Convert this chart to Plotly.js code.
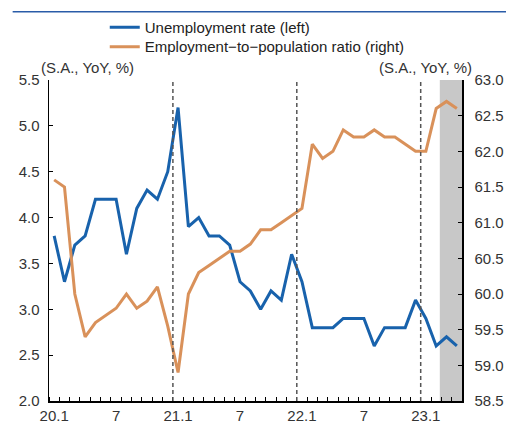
<!DOCTYPE html>
<html>
<head>
<meta charset="utf-8">
<script src="https://cdn.plot.ly/plotly-3.0.1.min.js"></script>
<style>
  html, body { margin: 0; padding: 0; background: #fff; }
  #chart { width: 506px; height: 424px; }
</style>
</head>
<body>
<div id="chart"></div>
<script>
// Monthly series, Jan 2020 through Apr 2023
const months = [
  '20.1','20.2','20.3','20.4','20.5','20.6','20.7','20.8','20.9','20.10','20.11','20.12',
  '21.1','21.2','21.3','21.4','21.5','21.6','21.7','21.8','21.9','21.10','21.11','21.12',
  '22.1','22.2','22.3','22.4','22.5','22.6','22.7','22.8','22.9','22.10','22.11','22.12',
  '23.1','23.2','23.3','23.4'
];
const unemploymentRate = [
  3.8, 3.3, 3.7, 3.8, 4.2, 4.2, 4.2, 3.6, 4.1, 4.3, 4.2, 4.5,
  5.2, 3.9, 4.0, 3.8, 3.8, 3.7, 3.3, 3.2, 3.0, 3.2, 3.1, 3.6,
  3.3, 2.8, 2.8, 2.8, 2.9, 2.9, 2.9, 2.6, 2.8, 2.8, 2.8, 3.1,
  2.9, 2.6, 2.7, 2.6
];
const employmentRatio = [
  61.6, 61.5, 60.0, 59.4, 59.6, 59.7, 59.8, 60.0, 59.8, 59.9, 60.1, 59.55,
  58.9, 60.0, 60.3, 60.4, 60.5, 60.6, 60.6, 60.7, 60.9, 60.9, 61.0, 61.1,
  61.2, 62.1, 61.9, 62.0, 62.3, 62.2, 62.2, 62.3, 62.2, 62.2, 62.1, 62.0,
  62.0, 62.6, 62.7, 62.6
];
// Labelled months on the x axis
const xTickLabels = ['20.1', '7', '21.1', '7', '22.1', '7', '23.1'];
const xTickMonths = ['20.1', '20.7', '21.1', '21.7', '22.1', '22.7', '23.1'];
// Year boundaries (dashed) and the shaded latest months
const yearStarts = ['21.1', '22.1', '23.1'];
const shadedFrom = '23.3';

const idx = m => months.indexOf(m);
const xs = months.map((m, i) => i);

const FONT = 'Liberation Sans, Arial, sans-serif';
const TXT = '#333333';

const traces = [
  {
    x: xs, y: unemploymentRate, type: 'scatter', mode: 'lines',
    name: 'Unemployment rate (left)',
    line: { color: '#1862AC', width: 3 },
    yaxis: 'y', legend: 'legend'
  },
  {
    x: xs, y: employmentRatio, type: 'scatter', mode: 'lines',
    name: 'Employment\u2212to\u2212population ratio (right)',
    line: { color: '#D9915A', width: 3 },
    yaxis: 'y2', legend: 'legend2'
  }
];

const shapes = [
  // shaded band over the latest months
  {
    type: 'rect', xref: 'x', yref: 'paper',
    x0: idx(shadedFrom) - 0.65, x1: months.length - 0.5, y0: 0, y1: 1,
    fillcolor: '#C8C8C8', line: { width: 0 }, layer: 'below'
  },
  // rule across the top of the figure
  {
    type: 'line', xref: 'paper', yref: 'paper',
    x0: -0.088, x1: 1.11, y0: 1.213, y1: 1.213,
    line: { color: '#2A5CA8', width: 1.5 }
  }
];
yearStarts.forEach(m => {
  const xv = idx(m) - 0.5;
  shapes.push({
    type: 'line', xref: 'x', yref: 'paper',
    x0: xv, x1: xv, y0: 0, y1: 1,
    line: { color: '#555555', width: 1.5, dash: '4px,3px' }
  });
});

const legendBase = {
  x: 0.135, xanchor: 'left', yanchor: 'top',
  bgcolor: 'rgba(0,0,0,0)', borderwidth: 0,
  font: { family: FONT, size: 15, color: '#222222' },
  itemwidth: 30
};

const layout = {
  width: 506, height: 424,
  margin: { l: 49, r: 44, t: 79, b: 23 },
  paper_bgcolor: '#ffffff', plot_bgcolor: '#ffffff',
  font: { family: FONT, size: 15, color: TXT },
  showlegend: true,
  legend: Object.assign({}, legendBase, { y: 1.211 }),
  legend2: Object.assign({}, legendBase, { y: 1.151 }),
  xaxis: {
    range: [-0.5, months.length - 0.5],
    tickmode: 'array',
    tickvals: xTickMonths.map(idx),
    ticktext: xTickLabels,
    ticks: '', showgrid: false, zeroline: false,
    showline: true, linecolor: '#000000', linewidth: 1.5,
    ticklabelstandoff: 0,
    tickfont: { family: FONT, size: 15, color: TXT },
    minor: { ticks: 'inside', tick0: -0.5, dtick: 1, ticklen: 4, tickcolor: '#000000', tickwidth: 1, showgrid: false }
  },
  yaxis: {
    range: [2.0, 5.5], dtick: 0.5, tick0: 2.0, tickformat: '.1f',
    ticks: 'inside', ticklen: 4, tickcolor: '#000000',
    showgrid: false, zeroline: false,
    showline: true, linecolor: '#000000', linewidth: 1.5,
    ticklabelstandoff: 5,
    tickfont: { family: FONT, size: 15, color: TXT }
  },
  yaxis2: {
    range: [58.5, 63.0], dtick: 0.5, tick0: 58.5, tickformat: '.1f',
    overlaying: 'y', side: 'right',
    ticks: 'inside', ticklen: 4, tickcolor: '#000000',
    showgrid: false, zeroline: false,
    showline: true, linecolor: '#000000', linewidth: 1.5,
    ticklabelstandoff: 8,
    tickfont: { family: FONT, size: 15, color: TXT }
  },
  shapes: shapes,
  annotations: [
    {
      text: '(S.A., YoY, %)', xref: 'paper', yref: 'paper',
      x: -0.025, y: 1.0, xanchor: 'left', yanchor: 'bottom', yshift: 2,
      showarrow: false, font: { family: FONT, size: 15, color: TXT }
    },
    {
      text: '(S.A., YoY, %)', xref: 'paper', yref: 'paper',
      x: 1.03, y: 1.0, xanchor: 'right', yanchor: 'bottom', yshift: 2,
      showarrow: false, font: { family: FONT, size: 15, color: TXT }
    }
  ]
};

Plotly.newPlot('chart', traces, layout, { displayModeBar: false, staticPlot: true });
</script>
</body>
</html>
